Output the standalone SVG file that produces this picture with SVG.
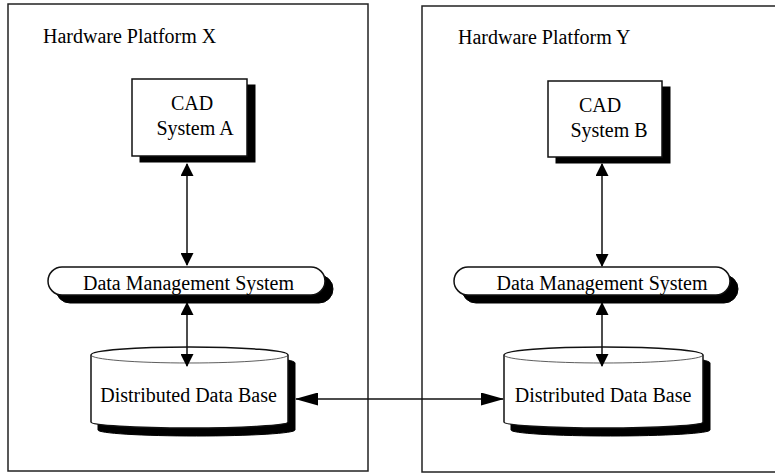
<svg xmlns="http://www.w3.org/2000/svg" width="775" height="474" viewBox="0 0 775 474">
<style>
text{font-family:"Liberation Serif","Times New Roman",serif;font-size:20px;fill:#000}
.frame{fill:none;stroke:#222;stroke-width:1.5}
.box{fill:#fff;stroke:#111;stroke-width:1.5}
.shadow{fill:#000;stroke:#000;stroke-width:1}
.thin{fill:none;stroke:#333;stroke-width:0.8}
.conn{fill:none;stroke:#111;stroke-width:1.5}
</style>
<defs>
<marker id="hv" markerUnits="userSpaceOnUse" markerWidth="13" markerHeight="13" refX="12" refY="6.5" orient="auto-start-reverse" viewBox="0 0 13 13">
<path d="M0,0 L13,6.5 L0,13 Z" fill="#000"/>
</marker>
<marker id="hh" markerUnits="userSpaceOnUse" markerWidth="23" markerHeight="13" refX="22" refY="6.5" orient="auto-start-reverse" viewBox="0 0 23 13">
<path d="M0,0 L23,6.5 L0,13 Z" fill="#000"/>
</marker>
</defs>
<rect width="775" height="474" fill="#fff"/>
<g id="platformX">
<rect class="frame" x="8" y="4" width="360" height="467"/>
<text x="43" y="43">Hardware Platform X</text>
</g>
<g id="platformY">
<rect class="frame" x="422" y="6" width="370" height="466"/>
<text x="458" y="44">Hardware Platform Y</text>
</g>
<g id="cadA">
<rect class="shadow" x="140" y="85" width="115" height="77"/>
<rect class="box" x="132" y="79" width="115" height="77"/>
<text x="192" y="110" text-anchor="middle">CAD</text>
<text x="195" y="135" text-anchor="middle">System A</text>
</g>
<g id="cadB">
<rect class="shadow" x="556" y="87" width="114" height="76"/>
<rect class="box" x="548" y="81" width="114" height="76"/>
<text x="600" y="112" text-anchor="middle">CAD</text>
<text x="609" y="137" text-anchor="middle">System B</text>
</g>
<g id="dmsA">
<rect class="shadow" x="56" y="275" width="277" height="28" rx="14"/>
<rect class="box" x="48" y="267" width="277" height="28" rx="14"/>
<text x="188.5" y="290" text-anchor="middle">Data Management System</text>
</g>
<g id="dmsB">
<rect class="shadow" x="462" y="275" width="276" height="28" rx="14"/>
<rect class="box" x="454" y="267" width="276" height="28" rx="14"/>
<text x="602" y="290" text-anchor="middle">Data Management System</text>
</g>
<g id="dbA">
<path class="shadow" d="M98,363 A98.5,8 0 0 1 295,363 L295,430 A98.5,6 0 0 1 98,430 Z"/>
<path class="box" d="M91,355 A98.5,8 0 0 1 288,355 L288,422 A98.5,6 0 0 1 91,422 Z"/>
<path class="thin" d="M91,355 A98.5,8 0 0 0 288,355"/>
<text x="188.5" y="402" text-anchor="middle">Distributed Data Base</text>
</g>
<g id="dbB">
<path class="shadow" d="M511,363 A99.5,8 0 0 1 710,363 L710,430 A99.5,6 0 0 1 511,430 Z"/>
<path class="box" d="M504,355 A99.5,8 0 0 1 703,355 L703,422 A99.5,6 0 0 1 504,422 Z"/>
<path class="thin" d="M504,355 A99.5,8 0 0 0 703,355"/>
<text x="603" y="402" text-anchor="middle">Distributed Data Base</text>
</g>
<g id="connectors">
<line class="conn" x1="187" y1="164" x2="187" y2="265" marker-start="url(#hv)" marker-end="url(#hv)"/>
<line class="conn" x1="187" y1="303" x2="187" y2="366" marker-start="url(#hv)" marker-end="url(#hv)"/>
<line class="conn" x1="602" y1="164" x2="602" y2="266" marker-start="url(#hv)" marker-end="url(#hv)"/>
<line class="conn" x1="602" y1="303" x2="602" y2="366" marker-start="url(#hv)" marker-end="url(#hv)"/>
<line class="conn" x1="296" y1="399" x2="503" y2="399" marker-start="url(#hh)" marker-end="url(#hh)"/>
</g>
</svg>
